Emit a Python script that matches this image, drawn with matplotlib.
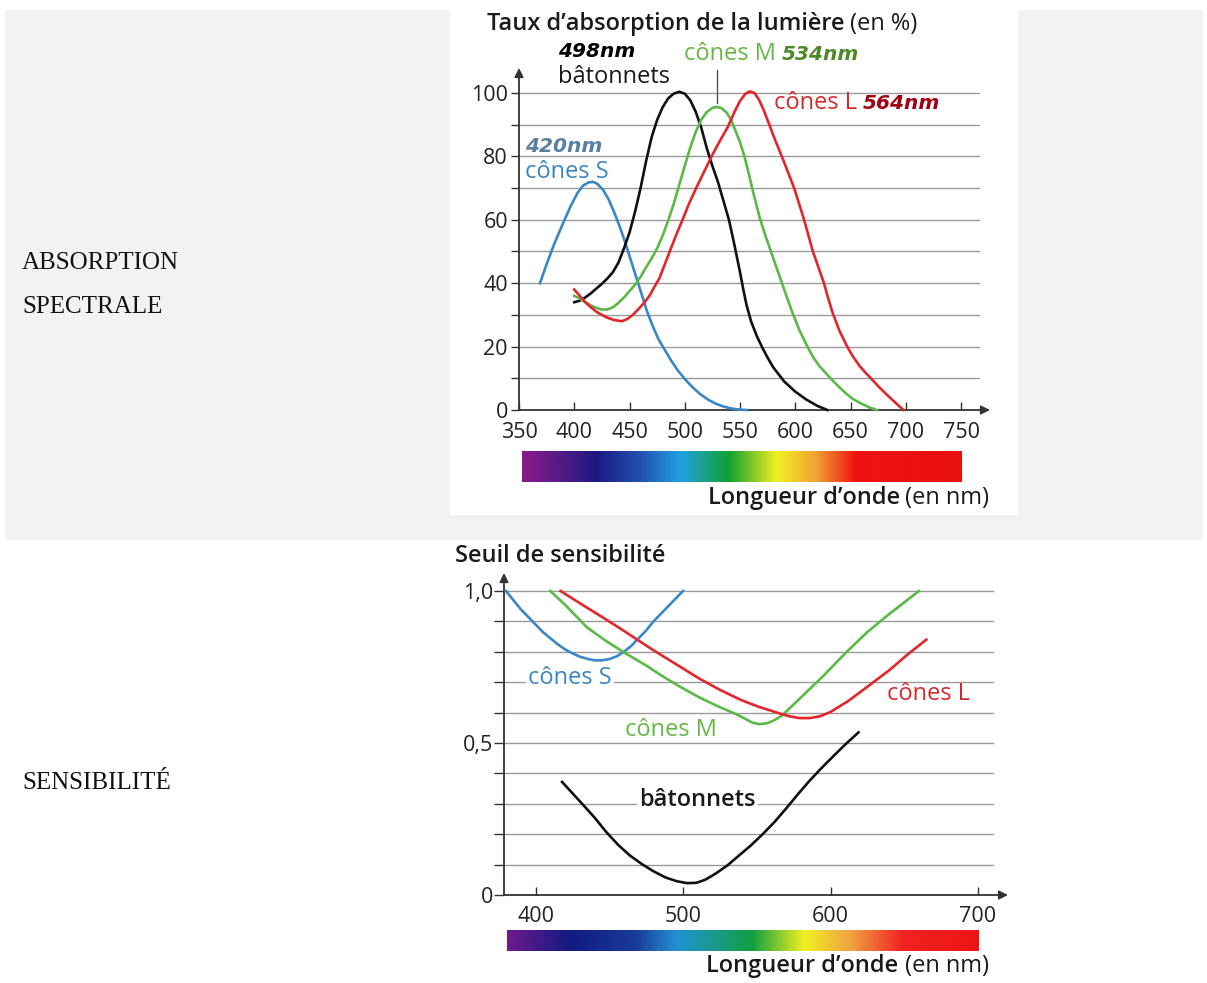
import numpy as np
import matplotlib
matplotlib.use("Agg")
import matplotlib.pyplot as plt
from matplotlib.colors import LinearSegmentedColormap
from matplotlib.patches import Rectangle

plt.rcParams['font.family'] = ['Open Sans', 'DejaVu Sans']

# ---------------- DATA ----------------
# Top chart: absorption (%) vs wavelength (nm)
abs_s_nm = [369, 375, 382, 390, 397, 403, 408, 413, 417, 421, 426, 431, 436, 441, 446, 451, 456, 461, 466, 471,
            476, 481, 487, 493, 500, 507, 514, 521, 528, 535, 542, 549, 556]
abs_s_val = [40, 46, 52.5, 59, 64.5, 68.5, 70.8, 71.8, 72, 71.3, 69.5, 66.5, 62.5, 58, 53, 47.5, 42, 36.5, 31, 26.5,
             22.5, 19.5, 16, 12.8, 9.8, 7.2, 5, 3.3, 2, 1.1, 0.5, 0.15, 0]

abs_rod_nm = [400, 405, 410, 415, 420, 425, 430, 435, 440, 445, 450, 455, 460, 465, 470, 475, 480, 485, 490, 495,
              500, 505, 510, 515, 520, 525, 530, 535, 540, 545, 550, 553, 556, 560, 565, 570, 575, 580, 590, 600,
              610, 620, 629]
abs_rod_val = [34, 34.5, 35.5, 36.8, 38.3, 39.8, 41.5, 43.5, 46.5, 51, 56, 62.5, 70, 78.5, 86, 91.5, 95.5, 98.3, 99.8, 100.4,
               99.8, 97.7, 94, 89, 82.5, 77, 72, 66, 60, 52, 43.5, 38, 33, 28, 23.5, 19.8, 16.5, 13.5, 9, 5.8,
               3.3, 1.3, 0]

abs_m_nm = [400, 405, 410, 415, 420, 425, 430, 435, 440, 445, 450, 455, 460, 465, 470, 475, 480, 485, 490, 495,
            500, 505, 510, 515, 520, 525, 529, 533, 538, 542, 546, 550, 554, 558, 561, 565, 568, 573, 578, 583,
            588, 593, 598, 604, 611, 616, 622, 628, 633, 639, 645, 652, 660, 667, 674]
abs_m_val = [36, 35.2, 34, 33, 32.2, 31.7, 31.7, 32.4, 33.8, 35.5, 37.5, 39.5, 42, 45, 47.8, 51, 55, 59.8, 65, 71,
             77, 82.8, 87.8, 91.6, 94, 95.3, 95.6, 95.3, 93.8, 91.5, 88, 84.5, 80, 74.5, 70, 64.5, 60.5, 55, 50, 45,
             40, 35, 30.2, 25, 20, 16.8, 13.8, 11.5, 9.6, 7.5, 5.5, 3.5, 2, 0.8, 0]

abs_l_nm = [400, 405, 410, 415, 420, 425, 430, 436, 443, 448, 453, 458, 463, 468, 472, 477, 482, 487, 492, 498,
            504, 511, 518, 525, 532, 539, 545, 550, 555, 559, 563, 567, 571, 576, 582, 589, 594, 599, 604, 608,
            612, 616, 621, 626, 630, 634, 640, 647, 652, 658, 663, 669, 676, 683, 690, 698]
abs_l_val = [38, 36, 34, 32.4, 31, 30, 29.1, 28.4, 28, 28.7, 30, 31.8, 33.7, 36, 38.5, 41.5, 46, 50.5, 55, 60,
             65.2, 70.5, 75.5, 80.5, 85, 89.3, 94, 97.5, 99.8, 100.5, 100, 98, 95, 90.5, 85, 79, 74.5, 70, 64.5, 60,
             55, 50, 45, 40, 35, 30.5, 25, 20, 17, 14, 12, 9.8, 7.2, 4.8, 2.5, 0]

top_xticks = [350, 400, 450, 500, 550, 600, 650, 700, 750]
top_yticks = [0, 20, 40, 60, 80, 100]

# Bottom chart: sensitivity threshold vs wavelength (nm)
sens_s_nm = [380, 385, 390, 395, 400, 405, 410, 415, 420, 425, 430, 435, 440, 445, 450, 455, 460, 465, 470, 475,
             480, 485, 490, 495, 500]
sens_s_val = [1.0, 0.97, 0.94, 0.915, 0.89, 0.865, 0.845, 0.825, 0.808, 0.795, 0.784, 0.777, 0.772, 0.772, 0.776,
              0.785, 0.80, 0.82, 0.845, 0.87, 0.9, 0.925, 0.95, 0.975, 1.0]

sens_m_nm = [410, 420, 435, 448, 461, 475, 486, 498, 511, 524, 536, 542, 547, 552, 557, 562, 567, 580, 595, 611,
             625, 640, 660]
sens_m_val = [1.0, 0.955, 0.88, 0.835, 0.795, 0.755, 0.72, 0.685, 0.65, 0.62, 0.595, 0.58, 0.567, 0.562, 0.565,
              0.575, 0.59, 0.65, 0.72, 0.80, 0.865, 0.925, 1.0]

sens_l_nm = [417, 430, 445, 458, 468, 480, 495, 511, 525, 540, 552, 565, 572, 579, 586, 593, 600, 612, 625, 640,
             652, 665]
sens_l_val = [1.0, 0.96, 0.915, 0.875, 0.843, 0.805, 0.76, 0.712, 0.675, 0.64, 0.618, 0.598, 0.588, 0.582, 0.582,
              0.588, 0.602, 0.638, 0.685, 0.74, 0.79, 0.84]

sens_rod_nm = [418, 425, 432, 440, 448, 456, 464, 472, 480, 488, 496, 503, 509, 515, 522, 530, 538, 546, 554, 562,
               570, 578, 586, 594, 602, 610, 619]
sens_rod_val = [0.372, 0.335, 0.298, 0.255, 0.207, 0.165, 0.13, 0.102, 0.078, 0.058, 0.045, 0.039, 0.04, 0.05, 0.07,
                0.097, 0.13, 0.163, 0.2, 0.24, 0.285, 0.332, 0.377, 0.418, 0.457, 0.495, 0.535]

bot_xticks = [400, 500, 600, 700]
bot_yticks = [0, 0.5, 1.0]
bot_yticklabels = ["0", "0,5", "1,0"]

# spectrum colour stops (fraction along bar, colour)
top_spectrum = [(0.0, '#8c1a8c'), (0.17, '#1c1a82'), (0.27, '#2352b2'), (0.36, '#22a2e2'),
                (0.47, '#12a032'), (0.58, '#f2f022'), (0.67, '#f0a232'), (0.76, '#f21212'), (1.0, '#e81010')]
bot_spectrum = [(0.0, '#6c1a8c'), (0.13, '#121a82'), (0.27, '#1a3a9a'), (0.36, '#2292d2'),
                (0.52, '#12a042'), (0.63, '#f2f022'), (0.73, '#f0a242'), (0.84, '#f22222'), (1.0, '#ee1414')]

# ---------------- STYLE ----------------
C_S, C_ROD, C_M, C_L = '#3a87c8', '#111111', '#5ab947', '#e3262b'
GRID = '#9a9a9a'
AXC = '#333333'
LBL = 17
TICK = 15.5

W, H = 1207, 983
fig = plt.figure(figsize=(W / 100, H / 100), dpi=100)
fig.patch.set_facecolor('white')

bg = fig.add_axes([0, 0, 1, 1])
bg.set_xlim(0, W)
bg.set_ylim(H, 0)
bg.axis('off')
bg.add_patch(Rectangle((5, 10), 1198, 530, fc='#f2f2f2', ec='none'))
bg.add_patch(Rectangle((450, 10), 568, 505, fc='white', ec='none'))

serif = ['Liberation Serif', 'DejaVu Serif']
bg.text(22, 263, "ABSORPTION", family=serif, fontsize=18, va='center', ha='left', color='#111')
bg.text(22, 307, "SPECTRALE", family=serif, fontsize=18, va='center', ha='left', color='#111')
bg.text(22, 783, "SENSIBILITÉ", family=serif, fontsize=18, va='center', ha='left', color='#111')

# titles / axis labels in pixel coords
bg.text(487, 24, "Taux d’absorption de la lumière", fontsize=17, fontweight='semibold', va='center', color='#1a1a1a')
bg.text(850, 24, "(en %)", fontsize=17, va='center', color='#1a1a1a')
bg.text(708, 498, "Longueur d’onde", fontsize=17, fontweight='semibold', va='center', color='#1a1a1a')
bg.text(905, 498, "(en nm)", fontsize=17, va='center', color='#1a1a1a')
bg.text(455, 556, "Seuil de sensibilité", fontsize=17, fontweight='semibold', va='center', color='#1a1a1a')
bg.text(706, 966, "Longueur d’onde", fontsize=17, fontweight='semibold', va='center', color='#1a1a1a')
bg.text(905, 966, "(en nm)", fontsize=17, va='center', color='#1a1a1a')


def pax(x0, y0, x1, y1):
    return fig.add_axes([x0 / W, 1 - y1 / H, (x1 - x0) / W, (y1 - y0) / H])


def style_axes(ax):
    ax.patch.set_alpha(0)
    for s in ax.spines.values():
        s.set_visible(False)


arrow_kw = dict(arrowstyle='-|>', color=AXC, lw=1.3, mutation_scale=13, shrinkA=0, shrinkB=0)

# ---------------- TOP CHART ----------------
ax1 = pax(519, 68, 990, 410)
style_axes(ax1)
x1max = 350 + (990 - 519) / 1.105
y1max = (410 - 68) / 3.17
ax1.set_xlim(350, x1max)
ax1.set_ylim(0, y1max)
for v in range(10, 101, 10):
    ax1.plot([350, 766], [v, v], color=GRID, lw=1.0, zorder=1, clip_on=False)
ax1.annotate('', xy=(x1max, 0), xytext=(350, 0), arrowprops=arrow_kw, zorder=2)
ax1.annotate('', xy=(350, y1max), xytext=(350, 0), arrowprops=arrow_kw, zorder=2)
ax1.set_xticks(top_xticks)
ax1.set_yticks(top_yticks)
ax1.set_yticks(list(range(10, 101, 20)), minor=True)
ax1.tick_params(axis='x', direction='in', length=6, width=1, color=AXC, pad=9, labelsize=TICK, labelcolor='#222')
ax1.tick_params(axis='y', which='both', direction='out', length=6, width=1, color=AXC, pad=2, labelsize=TICK, labelcolor='#222')

lw = 1.9
ax1.plot(abs_s_nm, abs_s_val, color=C_S, lw=lw, zorder=3, clip_on=False, solid_joinstyle='round')
ax1.plot(abs_rod_nm, abs_rod_val, color=C_ROD, lw=lw, zorder=3, clip_on=False, solid_joinstyle='round')
ax1.plot(abs_m_nm, abs_m_val, color=C_M, lw=lw, zorder=3, clip_on=False, solid_joinstyle='round')
ax1.plot(abs_l_nm, abs_l_val, color=C_L, lw=lw, zorder=3, clip_on=False, solid_joinstyle='round')

mono = ['DejaVu Sans']
NMS = 14.5
ax1.text(385.5, 113, "498nm", family=mono, fontsize=NMS, fontweight='bold', style='oblique', color='#000', va='center')
ax1.text(385.5, 105.2, "bâtonnets", fontsize=LBL, color='#1a1a1a', va='center')
ax1.text(499, 112.3, "cônes M", fontsize=LBL, color='#66b844', va='center')
ax1.text(588, 112.3, "534nm", family=mono, fontsize=NMS, fontweight='bold', style='oblique', color='#4d8a26', va='center')
ax1.plot([529, 529], [107.3, 96.8], color='#555', lw=1.0, zorder=2, clip_on=False)
ax1.text(581, 96.8, "cônes L", fontsize=LBL, color='#d42a2a', va='center')
ax1.text(661, 96.8, "564nm", family=mono, fontsize=NMS, fontweight='bold', style='oblique', color='#a00010', va='center')
ax1.text(355.5, 83, "420nm", family=mono, fontsize=NMS, fontweight='bold', style='oblique', color='#5a7fa2', va='center')
ax1.text(355.5, 75, "cônes S", fontsize=LBL, color='#3b86c0', va='center')

# ---------------- BOTTOM CHART ----------------
ax2 = pax(504, 573, 1008, 895)
style_axes(ax2)
x2min = 400 - (535.5 - 504) / 1.475
x2max = 400 + (1008 - 535.5) / 1.475
y2max = (895 - 573) / 304
ax2.set_xlim(x2min, x2max)
ax2.set_ylim(0, y2max)
for i in range(1, 11):
    v = i / 10
    ax2.plot([x2min, 710], [v, v], color=GRID, lw=1.0, zorder=1, clip_on=False)
ax2.annotate('', xy=(x2max, 0), xytext=(x2min, 0), arrowprops=arrow_kw, zorder=2)
ax2.annotate('', xy=(x2min, y2max), xytext=(x2min, 0), arrowprops=arrow_kw, zorder=2)
ax2.set_xticks(bot_xticks)
ax2.set_yticks(bot_yticks)
ax2.set_yticklabels(bot_yticklabels)
ax2.set_yticks([i / 10 for i in range(1, 10) if i != 5], minor=True)
ax2.tick_params(axis='x', direction='in', length=6, width=1, color=AXC, pad=8, labelsize=TICK, labelcolor='#222')
ax2.tick_params(axis='y', which='both', direction='out', length=7, width=1, color=AXC, pad=1, labelsize=TICK, labelcolor='#222')

ax2.plot(sens_s_nm, sens_s_val, color=C_S, lw=lw, zorder=3, clip_on=False, solid_joinstyle='round')
ax2.plot(sens_m_nm, sens_m_val, color=C_M, lw=lw, zorder=3, clip_on=False, solid_joinstyle='round')
ax2.plot(sens_l_nm, sens_l_val, color=C_L, lw=lw, zorder=3, clip_on=False, solid_joinstyle='round')
ax2.plot(sens_rod_nm, sens_rod_val, color=C_ROD, lw=lw, zorder=3, clip_on=False, solid_joinstyle='round')

ax2.text(423.5, 0.714, "cônes S", fontsize=LBL, color='#3b86c0', ha='center', va='center', zorder=4,
         bbox=dict(fc='white', ec='none', pad=1.5))
ax2.text(460.7, 0.543, "cônes M", fontsize=LBL, color='#66b844', ha='left', va='center', zorder=4)
ax2.text(638, 0.661, "cônes L", fontsize=LBL, color='#d42a2a', ha='left', va='center', zorder=4)
ax2.text(510, 0.3125, "bâtonnets", fontsize=LBL, fontweight='semibold', color='#1a1a1a', ha='center', va='center', zorder=4,
         bbox=dict(fc='white', ec='none', pad=1.5))


# ---------------- SPECTRUM BARS ----------------
def spectrum(box, stops):
    a = pax(*box)
    cmap = LinearSegmentedColormap.from_list('spec', stops)
    a.imshow(np.linspace(0, 1, 600)[None, :], cmap=cmap, aspect='auto', interpolation='bilinear')
    a.axis('off')


spectrum((522, 451, 962, 482), top_spectrum)
spectrum((507, 930, 978, 951), bot_spectrum)

fig.savefig("out.png", dpi=100, facecolor='white')
